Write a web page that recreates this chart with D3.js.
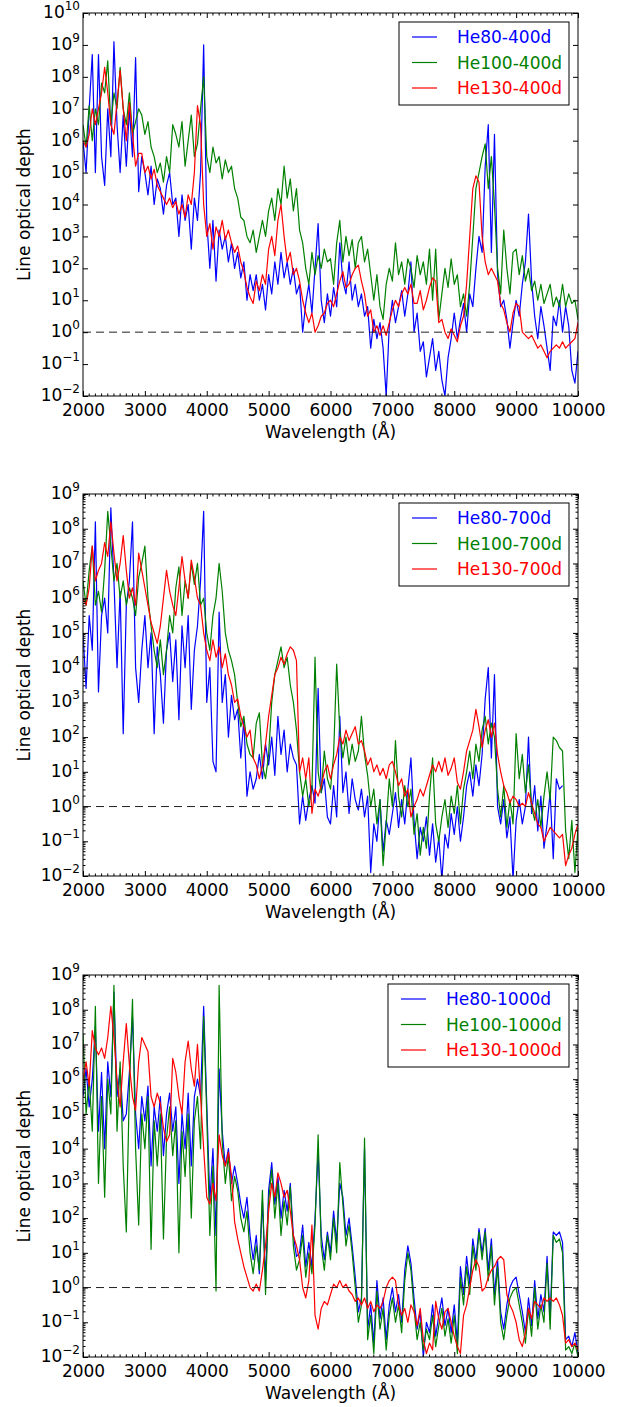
<!DOCTYPE html>
<html>
<head>
<meta charset="utf-8">
<script src="https://cdn.jsdelivr.net/npm/d3@7"></script>
<style>
  body { margin: 0; background: #fff; }
  svg { display: block; }
  text { font-family: "DejaVu Sans", sans-serif; fill: #000; }
</style>
</head>
<body>
<svg id="chart" width="627" height="1407"></svg>
<script>
// Wavelength grid (Angstrom), one sample every 50 A
const wavelength = d3.range(2000, 10001, 50);

// log10 of the line optical depth for each model, on the grid above
// ---- 400 days ----
const logTau80_400 = [
  6.0,5.0,7.0,8.7,5.0,8.7,5.5,4.6,7.0,5.5,
  9.1,6.5,5.0,6.8,5.2,7.0,5.5,8.6,4.4,5.5,
  5.0,4.3,5.2,4.0,4.8,4.5,3.7,4.6,5.0,4.0,
  4.2,3.0,4.3,3.5,4.0,2.6,4.2,3.5,5.0,9.0,
  3.5,2.0,3.5,1.6,3.2,2.6,3.0,2.2,2.8,2.0,
  2.5,1.7,2.2,1.0,1.8,1.3,1.8,1.0,1.5,0.7,
  1.8,1.2,2.2,1.5,2.5,1.7,2.2,1.5,2.0,1.2,
  1.5,0.0,0.9,1.5,0.6,2.0,3.4,1.0,0.3,1.2,
  0.5,1.4,0.8,2.8,1.6,1.2,2.2,1.0,1.5,0.8,
  1.2,0.5,0.8,-0.5,0.4,-0.2,0.3,-0.5,-2.0,0.2,
  1.0,0.3,0.8,1.3,0.5,1.2,2.2,0.0,0.6,-0.6,
  -0.3,-1.4,-0.8,-0.2,-1.2,-0.6,-1.5,-2.0,-0.8,-0.2,
  0.6,-0.2,0.4,0.9,0.0,1.2,0.8,2.0,3.0,2.5,
  5.2,6.5,2.5,6.2,1.8,0.8,1.0,0.4,-0.5,0.3,
  1.0,0.5,1.5,2.2,3.7,1.6,0.5,-0.2,0.8,0.2,
  -0.5,-1.2,0.5,0.2,1.0,0.0,0.8,0.2,-1.2,-1.6,
  -0.6
];
const logTau100_400 = [
  6.5,5.8,7.1,6.0,7.0,6.5,7.8,7.5,8.5,6.5,
  7.5,7.0,8.3,7.0,6.5,7.5,6.2,6.6,7.0,6.8,
  6.2,6.6,5.8,5.5,5.0,5.3,4.7,5.5,5.0,6.5,
  6.2,5.8,6.6,5.2,6.0,6.8,5.5,5.9,7.0,8.0,
  5.5,5.0,5.8,5.3,5.5,4.8,5.4,5.0,5.2,4.5,
  4.2,3.6,3.5,3.0,2.8,3.2,2.5,3.0,3.5,3.0,
  3.8,4.2,3.5,4.5,4.0,5.2,4.2,4.8,3.8,4.5,
  3.2,2.8,2.0,1.5,2.5,1.8,2.4,2.0,2.6,2.2,
  2.3,1.5,2.8,3.5,2.2,3.0,2.4,2.9,2.0,2.8,
  3.0,2.2,2.6,1.8,1.0,1.8,0.8,0.4,1.5,2.0,
  1.6,2.8,1.8,2.2,1.5,2.3,2.0,1.4,2.4,1.8,
  2.2,1.5,2.6,1.0,2.6,0.4,1.2,2.0,1.4,2.3,
  1.5,1.8,0.8,1.2,0.5,1.5,3.0,4.5,5.0,5.5,
  5.9,4.5,5.5,4.0,2.0,1.2,3.2,2.0,1.2,2.5,
  2.6,1.8,2.4,1.6,2.0,1.3,1.6,1.0,1.5,0.9,
  1.2,1.5,0.8,1.1,0.8,1.5,0.8,1.2,0.9,1.0,
  0.4
];
const logTau130_400 = [
  6.0,5.8,6.2,7.0,6.5,7.0,7.5,8.3,7.5,6.5,
  6.2,7.2,8.2,7.0,6.0,7.2,6.2,5.2,5.6,5.6,
  5.0,5.2,4.8,5.1,4.6,4.4,4.2,4.0,4.2,3.9,
  4.1,3.7,4.0,3.6,4.3,4.0,5.0,7.1,6.5,4.0,
  3.0,3.4,2.6,3.3,3.0,3.5,2.9,3.2,2.8,2.5,
  2.7,2.2,1.9,1.4,1.1,0.9,1.6,1.3,1.8,1.5,
  2.6,3.0,2.4,3.5,4.0,3.0,2.2,2.5,1.8,2.0,
  1.6,1.0,0.6,0.3,0.6,0.0,0.2,0.5,0.6,0.9,
  1.0,0.8,1.2,1.6,1.9,1.4,1.5,1.8,2.0,2.1,
  1.6,1.2,0.5,0.7,0.0,0.2,-0.1,0.2,-0.1,0.3,
  0.7,1.0,0.8,1.2,1.4,1.2,1.5,0.9,0.9,1.3,
  0.7,1.0,1.4,1.7,1.6,0.3,0.4,0.0,-0.2,0.1,
  -0.1,-0.3,0.2,0.5,1.5,3.0,4.5,4.9,4.7,3.0,
  2.2,1.8,2.0,1.8,1.6,0.9,0.7,0.3,0.0,0.6,
  0.9,0.8,0.0,-0.1,-0.2,-0.1,-0.3,-0.5,-0.4,-0.6,
  -0.8,-0.6,-0.5,-0.4,-0.5,-0.3,-0.5,-0.4,-0.3,-0.2,
  0.3
];

// ---- 700 days ----
const logTau80_700 = [
  5.0,3.4,5.5,4.5,8.2,3.3,5.5,6.0,5.0,8.6,
  6.5,4.0,6.2,2.1,5.8,6.5,8.2,4.0,3.0,4.5,
  5.5,4.0,5.0,2.1,4.6,3.8,2.4,4.5,5.0,3.6,
  4.8,2.5,5.2,4.0,5.5,2.8,4.5,5.2,6.5,8.5,
  3.0,4.0,1.3,1.0,5.6,3.0,3.8,2.0,3.2,2.5,
  2.8,1.4,2.5,0.3,1.0,0.5,0.8,1.5,0.8,1.8,
  1.2,2.0,0.9,2.6,1.5,2.2,1.0,1.8,1.4,1.2,
  -0.5,0.3,-0.4,0.2,0.6,0.1,3.4,0.4,0.8,-0.3,
  -0.5,0.6,-0.3,2.6,0.4,1.0,-0.2,0.8,0.2,-0.1,
  0.5,-0.3,0.3,-1.9,-0.5,-1.0,0.2,-1.3,-0.4,-0.8,
  -0.2,0.4,-0.6,0.2,-0.5,0.5,1.4,-0.4,-1.5,-0.6,
  -1.0,-0.3,-1.4,-0.5,-1.6,-0.9,-2.1,-0.8,-1.2,-0.2,
  -0.8,0.0,-1.0,-0.3,0.6,1.0,0.3,1.2,0.6,1.5,
  3.1,4.0,1.4,3.8,0.0,-0.5,0.2,-0.9,-0.3,-2.1,
  -0.4,0.2,-0.5,0.0,2.0,-0.2,0.6,-0.7,0.3,-1.2,
  -0.5,0.4,-1.5,0.8,0.5,0.6,null,null,null,null,
  null
];
const logTau100_700 = [
  6.5,5.8,6.8,7.5,5.8,6.2,5.6,6.8,8.5,7.5,
  6.5,7.0,6.0,6.5,5.8,6.3,6.0,5.5,6.6,7.0,
  7.5,6.0,5.2,4.5,4.0,4.8,3.8,4.5,5.5,5.0,
  6.3,6.9,5.5,6.5,6.0,7.0,6.4,7.0,5.8,6.0,
  5.0,4.5,5.5,6.0,7.0,6.2,5.0,4.5,4.2,3.8,
  3.0,2.3,2.6,1.8,1.5,1.4,2.4,2.7,1.2,0.8,
  1.5,3.0,3.8,4.2,4.6,4.0,4.3,3.5,3.0,2.2,
  1.0,0.3,0.8,0.0,0.5,4.3,1.0,0.4,1.6,0.8,
  0.5,1.5,4.1,2.2,1.4,2.0,1.2,1.8,1.3,1.6,
  2.6,1.5,0.9,0.0,0.5,-0.5,0.2,-1.7,-0.5,0.8,
  0.0,1.9,0.3,-0.3,0.6,0.0,0.5,-0.8,-0.2,-1.4,
  -0.6,-1.2,0.3,1.4,-0.5,-1.0,-0.3,0.2,-0.6,0.3,
  -0.2,0.6,-0.5,0.5,1.0,1.6,0.8,1.8,1.3,2.2,
  2.6,1.8,2.4,2.0,0.5,-0.3,0.6,-0.6,0.2,-0.5,
  2.1,0.8,1.5,0.4,1.2,0.0,-0.4,0.2,-0.6,0.3,
  1.0,0.2,2.0,1.9,1.7,1.6,-0.7,-1.5,-0.4,-1.9,
  -0.6
];
const logTau130_700 = [
  6.0,5.8,6.3,7.5,6.5,6.8,7.0,7.6,7.2,8.2,
  7.3,6.5,7.0,7.8,6.8,6.0,6.3,5.8,7.3,6.8,
  6.3,5.8,5.3,5.0,4.7,5.2,6.0,6.8,6.2,5.8,
  5.5,6.3,7.2,6.5,6.0,7.1,6.6,6.0,5.8,5.0,
  4.5,4.2,4.8,4.3,4.6,4.0,4.4,3.8,3.5,3.0,
  3.1,2.6,2.3,2.0,2.2,1.4,1.2,0.8,1.2,1.8,
  2.6,3.2,3.8,4.0,4.3,4.1,4.4,4.6,4.5,4.2,
  1.0,1.4,0.8,1.4,-0.2,0.5,0.3,0.6,1.0,1.2,
  0.8,1.2,1.5,2.0,1.8,2.2,1.9,2.1,2.3,1.8,
  1.9,1.6,1.2,1.4,1.0,1.2,0.9,1.1,0.8,1.2,
  1.3,1.0,0.6,0.8,0.3,0.5,-0.3,0.0,0.2,0.5,
  0.3,0.6,0.9,1.2,1.0,1.3,1.0,1.4,0.9,1.1,
  1.4,0.7,0.5,1.0,1.6,1.9,2.2,2.8,2.3,1.7,
  2.2,2.5,2.0,2.4,1.5,1.0,0.6,0.4,0.1,0.3,
  0.2,0.0,0.1,0.0,0.4,0.1,-0.2,-0.5,-0.6,-1.0,
  -0.8,-0.6,-0.7,-0.8,-0.9,-0.8,-1.7,-1.4,-1.2,-0.8,
  -0.5
];

// ---- 1000 days ----
const logTau80_1000 = [
  5.5,6.3,5.2,6.0,7.5,4.5,6.2,4.0,6.5,5.5,
  8.5,5.5,6.3,4.8,5.0,6.2,7.8,5.0,4.0,5.5,
  4.8,5.8,3.5,5.2,4.5,5.5,3.8,5.0,5.6,4.5,
  5.2,3.0,5.0,4.0,5.6,3.5,5.5,6.0,5.5,8.1,
  5.3,2.5,4.0,1.5,6.3,4.5,3.5,4.0,3.0,3.5,
  3.0,2.4,2.0,2.6,1.5,0.8,1.5,0.4,2.5,0.2,
  2.8,3.6,2.4,3.2,2.0,2.8,2.2,3.0,1.5,0.9,
  1.0,1.8,0.6,1.3,0.6,2.0,3.9,1.5,0.8,1.6,
  1.0,2.2,1.3,3.0,2.6,1.5,2.0,1.2,0.3,-0.7,
  -0.3,4.0,-1.2,-0.5,-1.6,0.2,-0.9,-0.3,-1.5,-0.5,
  0.0,-0.7,-0.2,-1.0,0.5,1.2,0.7,-0.3,-1.2,-0.7,
  -2.0,-1.0,-1.3,-0.5,-1.4,-0.8,-0.3,-1.1,-0.6,-1.3,
  -0.5,-1.6,0.6,-0.2,0.9,0.1,1.4,0.8,1.7,1.0,
  1.7,0.5,1.4,-0.2,0.8,-0.7,-1.2,-0.5,0.0,0.2,
  0.3,-0.2,-0.7,-1.3,-0.3,-1.1,0.2,-0.9,-0.2,-0.7,
  0.9,-0.9,1.6,1.5,1.6,1.3,-1.5,-1.4,-1.7,-1.3,
  -1.9
];
const logTau100_1000 = [
  7.3,5.0,6.0,4.5,8.1,3.0,5.5,2.6,6.0,5.0,
  8.7,4.5,6.5,3.5,1.6,5.8,8.3,4.0,1.8,5.0,
  4.0,5.5,1.1,4.8,3.5,5.0,1.4,4.3,5.2,3.8,
  4.8,1.0,4.5,3.2,5.0,2.0,4.8,5.5,4.0,7.8,
  5.0,1.5,3.5,-0.1,8.7,4.2,3.0,3.8,2.5,3.2,
  2.8,2.0,1.6,2.2,1.0,0.4,1.2,0.5,2.8,-0.2,
  2.5,3.4,2.0,3.0,1.5,2.5,1.8,2.9,1.2,0.5,
  0.8,1.5,0.3,1.0,0.4,1.8,4.4,1.2,0.5,1.5,
  0.8,2.0,1.0,3.6,2.4,1.2,1.8,1.0,0.0,-1.0,
  -0.5,4.3,-1.5,-0.8,-1.9,-0.1,-1.2,-0.6,-1.8,-0.8,
  -0.3,-1.0,-0.5,-1.3,0.2,1.0,0.5,-0.6,-1.5,-1.0,
  -1.8,-1.2,-1.5,-0.8,-1.7,-1.1,-0.6,-1.4,-0.9,-1.6,
  -0.8,-1.9,0.3,-0.5,0.6,-0.2,1.2,0.5,1.6,0.8,
  1.6,0.2,1.2,-0.5,0.6,-1.0,-1.5,-0.8,-0.3,-0.1,
  0.0,-0.5,-1.0,-1.6,-0.6,-1.4,0.0,-1.2,-0.5,-1.0,
  0.7,-1.2,1.5,1.3,1.4,1.0,-1.8,-1.7,-1.9,-1.6,
  -2.0
];
const logTau130_1000 = [
  6.0,6.5,5.8,7.4,6.9,6.7,6.9,6.6,7.2,8.1,
  7.2,6.0,5.2,6.5,7.6,6.4,5.5,5.1,6.5,7.2,
  7.0,6.8,5.5,5.2,5.6,5.3,4.6,4.2,4.4,6.6,
  6.2,5.5,5.0,6.5,7.1,6.3,5.8,7.0,5.5,4.0,
  2.6,2.4,3.0,2.5,4.4,3.8,3.5,3.9,3.2,1.9,
  1.4,1.0,0.6,0.3,0.0,-0.1,0.1,-0.1,0.5,1.2,
  2.2,3.0,2.6,3.3,3.0,2.6,2.8,2.2,1.5,1.2,
  0.8,0.0,-0.3,0.2,1.8,-0.8,-1.2,-0.6,-0.4,-0.5,
  -0.2,0.1,0.0,0.2,0.0,0.1,-0.1,-0.2,-0.4,-0.3,
  -0.5,-0.3,-0.6,-0.4,-0.7,-0.5,-0.6,-0.4,0.0,0.2,
  0.3,0.2,-0.5,-0.8,-0.6,-1.0,-0.5,-0.7,-1.1,-0.6,
  -1.5,-1.9,-1.6,-1.8,-0.4,-0.9,-1.2,-0.7,-0.6,-1.0,
  -1.4,-1.7,-1.9,-0.8,-0.5,0.0,0.5,0.8,0.6,-0.1,
  0.0,0.3,0.5,0.6,0.8,0.9,0.8,-0.2,-0.5,-0.7,
  -1.0,-1.5,-1.7,-1.3,-0.6,-0.9,-0.4,-0.5,-0.6,-0.3,
  -0.4,-0.3,-0.4,-0.3,-0.5,-0.8,-1.6,-1.5,-1.7,-1.6,
  -1.8
];

// Axis tick values
const xMajorTicks = [2000, 3000, 4000, 5000, 6000, 7000, 8000, 9000, 10000];
const seriesColors = ["#0000ff", "#008000", "#ff0000"];

const panels = [
  { top: 13,  bottom: 396,  yMaxExp: 10, minorY: false, legendLeft: 399,
    labels: ["He80-400d", "He100-400d", "He130-400d"],
    series: [logTau80_400, logTau100_400, logTau130_400] },
  { top: 494, bottom: 876,  yMaxExp: 9,  minorY: true,  legendLeft: 399,
    labels: ["He80-700d", "He100-700d", "He130-700d"],
    series: [logTau80_700, logTau100_700, logTau130_700] },
  { top: 975, bottom: 1357, yMaxExp: 9,  minorY: true,  legendLeft: 388,
    labels: ["He80-1000d", "He100-1000d", "He130-1000d"],
    series: [logTau80_1000, logTau100_1000, logTau130_1000] }
];

const plotLeft = 83, plotRight = 578;
const svg = d3.select("#chart");
const FONT = 17;

const x = d3.scaleLinear().domain([2000, 10000]).range([plotLeft, plotRight]);
const xMinor = d3.range(2000, 10001, 100).filter(v => v % 1000 !== 0);

panels.forEach((p, i) => {
  const y = d3.scaleLog().domain([1e-2, Math.pow(10, p.yMaxExp)]).range([p.bottom, p.top]);
  const g = svg.append("g");
  const clipId = "clip" + i;
  g.append("clipPath").attr("id", clipId)
    .append("rect").attr("x", plotLeft).attr("y", p.top)
    .attr("width", plotRight - plotLeft).attr("height", p.bottom - p.top);

  // spectra
  const line = d3.line()
    .defined(d => d[1] !== null)
    .x(d => x(d[0]))
    .y(d => y(Math.pow(10, d[1])));
  const plotG = g.append("g").attr("clip-path", `url(#${clipId})`);
  p.series.forEach((s, k) => {
    const pts = wavelength.map((w, j) => [w, s[j] === undefined ? null : s[j]]);
    plotG.append("path").datum(pts)
      .attr("d", line)
      .attr("fill", "none")
      .attr("stroke", seriesColors[k])
      .attr("stroke-width", 1.2)
      .attr("stroke-linejoin", "round");
  });

  // tau = 1 reference line
  plotG.append("line")
    .attr("x1", plotLeft).attr("x2", plotRight)
    .attr("y1", y(1)).attr("y2", y(1))
    .attr("stroke", "#222").attr("stroke-width", 1)
    .attr("stroke-dasharray", "8,5");

  // x axes (ticks pointing inward)
  const xb = g.append("g").attr("transform", `translate(0,${p.bottom})`)
    .call(d3.axisBottom(x).tickValues(xMajorTicks).tickSize(-5).tickPadding(8)
      .tickFormat(d3.format("d")));
  xb.append("g").selectAll("line").data(xMinor).join("line")
    .attr("x1", d => x(d)).attr("x2", d => x(d)).attr("y1", 0).attr("y2", -2.5)
    .attr("stroke", "#000");
  const xt = g.append("g").attr("transform", `translate(0,${p.top})`)
    .call(d3.axisTop(x).tickValues(xMajorTicks).tickSize(-5).tickFormat(""));
  xt.append("g").selectAll("line").data(xMinor).join("line")
    .attr("x1", d => x(d)).attr("x2", d => x(d)).attr("y1", 0).attr("y2", 2.5)
    .attr("stroke", "#000");

  // y axes
  const yMajor = d3.range(-2, p.yMaxExp + 1).map(e => Math.pow(10, e));
  const yl = g.append("g").attr("transform", `translate(${plotLeft},0)`)
    .call(d3.axisLeft(y).tickValues(yMajor).tickSize(-5).tickFormat(""));
  const yr = g.append("g").attr("transform", `translate(${plotRight},0)`)
    .call(d3.axisRight(y).tickValues(yMajor).tickSize(-5).tickFormat(""));
  if (p.minorY) {
    const yMinor = [];
    d3.range(-2, p.yMaxExp).forEach(e => {
      for (let m = 2; m <= 9; m++) yMinor.push(m * Math.pow(10, e));
    });
    yl.append("g").selectAll("line").data(yMinor).join("line")
      .attr("x1", 0).attr("x2", 2.5).attr("y1", d => y(d)).attr("y2", d => y(d))
      .attr("stroke", "#000");
    yr.append("g").selectAll("line").data(yMinor).join("line")
      .attr("x1", 0).attr("x2", -2.5).attr("y1", d => y(d)).attr("y2", d => y(d))
      .attr("stroke", "#000");
  }
  [xb, xt, yl, yr].forEach(a => {
    a.select(".domain").remove();
    a.selectAll(".tick line").attr("stroke", "#000");
  });
  xb.selectAll(".tick text").attr("font-size", FONT).attr("font-family", "DejaVu Sans");

  // y tick labels as 10^n
  const yLab = g.append("g");
  d3.range(-2, p.yMaxExp + 1).forEach(e => {
    const t = yLab.append("text")
      .attr("x", plotLeft - 3)
      .attr("y", y(Math.pow(10, e)) + 5)
      .attr("text-anchor", "end")
      .attr("font-size", FONT);
    t.append("tspan").text("10");
    t.append("tspan").attr("dy", -8).attr("font-size", 12)
      .text(e < 0 ? "\u2212" + Math.abs(e) : String(e));
  });

  // frame
  g.append("rect")
    .attr("x", plotLeft).attr("y", p.top)
    .attr("width", plotRight - plotLeft).attr("height", p.bottom - p.top)
    .attr("fill", "none").attr("stroke", "#000").attr("stroke-width", 1);

  // axis titles
  g.append("text")
    .attr("x", (plotLeft + plotRight) / 2).attr("y", p.bottom + 42)
    .attr("text-anchor", "middle").attr("font-size", FONT)
    .text("Wavelength (\u00C5)");
  g.append("text")
    .attr("transform", `translate(30,${(p.top + p.bottom) / 2}) rotate(-90)`)
    .attr("text-anchor", "middle").attr("font-size", FONT)
    .text("Line optical depth");

  // legend
  const lg = g.append("g");
  const boxTop = p.top + 9;
  lg.append("rect")
    .attr("x", p.legendLeft).attr("y", boxTop)
    .attr("width", 569 - p.legendLeft).attr("height", 83)
    .attr("fill", "#fff").attr("stroke", "#000").attr("stroke-width", 1);
  p.labels.forEach((lab, k) => {
    const ry = p.top + 24 + k * 25.5;
    lg.append("line")
      .attr("x1", p.legendLeft + 13).attr("x2", p.legendLeft + 38)
      .attr("y1", ry).attr("y2", ry)
      .attr("stroke", seriesColors[k]).attr("stroke-width", 1.2);
    lg.append("text")
      .attr("x", p.legendLeft + 58).attr("y", ry + 6)
      .attr("font-size", FONT)
      .style("fill", seriesColors[k])
      .text(lab);
  });
});
</script>
</body>
</html>
